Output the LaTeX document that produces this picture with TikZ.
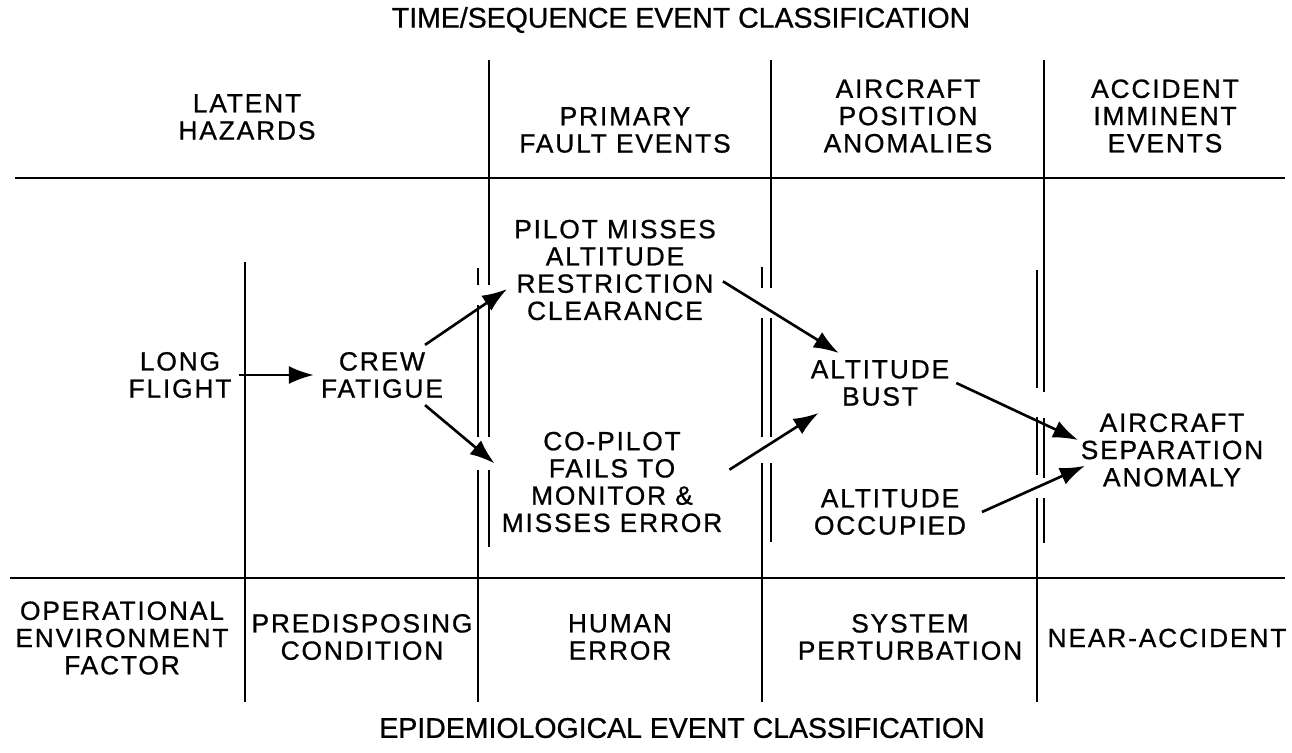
\documentclass[tikz,border=0pt]{standalone}
\usepackage{fontspec}
\setmainfont{Liberation Sans}[LetterSpace=7,FakeBold=0.8]
\newfontfamily\headfont{Liberation Sans}[FakeBold=0.8]
\usetikzlibrary{arrows.meta}

\begin{document}
\begin{tikzpicture}[x=0.02cm,y=-0.02cm,line width=1.5pt,>={Latex[length=5mm,width=3.6mm]},
  every node/.style={align=center,font=\fontsize{15}{15.5}\selectfont}]
  \useasboundingbox (0,0) rectangle (1292,752);

  % titles
  \node[font=\headfont\fontsize{16.2}{18}\selectfont] (tseq) at (681,20) {TIME/SEQUENCE EVENT CLASSIFICATION};
  \node[font=\headfont\fontsize{16.2}{18}\selectfont] (epid) at (682,728) {EPIDEMIOLOGICAL EVENT CLASSIFICATION};

  % column heads
  \node (latent) at (247,117) {LATENT\\HAZARDS};
  \node (primary) at (625,130) {PRIMARY\\FAULT EVENTS};
  \node (position) at (908,116) {AIRCRAFT\\POSITION\\ANOMALIES};
  \node (imminent) at (1165,116) {ACCIDENT\\IMMINENT\\EVENTS};

  % events
  \node (long) at (180,375) {LONG\\FLIGHT};
  \node (crew) at (382,375) {CREW\\FATIGUE};
  \node (pilot) at (615,270) {PILOT MISSES\\ALTITUDE\\RESTRICTION\\CLEARANCE};
  \node (copilot) at (612,482) {CO-PILOT\\FAILS TO\\MONITOR \&\\MISSES ERROR};
  \node (bust) at (880,383) {ALTITUDE\\BUST};
  \node (occupied) at (890,512) {ALTITUDE\\OCCUPIED};
  \node (separation) at (1172,450) {AIRCRAFT\\SEPARATION\\ANOMALY};

  % epidemiological row
  \node (operational) at (122,638) {OPERATIONAL\\ENVIRONMENT\\FACTOR};
  \node (predisposing) at (362,637) {PREDISPOSING\\CONDITION};
  \node (human) at (620,637) {HUMAN\\ERROR};
  \node (perturbation) at (910,637) {SYSTEM\\PERTURBATION};
  \node (near) at (1167,638) {NEAR-ACCIDENT};

  % grid
  \draw (15,178) -- (1285,178);
  \draw (10,578) -- (1285,578);
  \draw (245,262) -- (245,702);
  \draw (489,60) -- (489,285) (489,305) -- (489,437) (489,470) -- (489,547);
  \draw (478,268) -- (478,285) (478,305) -- (478,437) (478,470) -- (478,702);
  \draw (771,60) -- (771,288) (771,318) -- (771,437) (771,463) -- (771,542);
  \draw (762,267) -- (762,288) (762,318) -- (762,437) (762,463) -- (762,702);
  \draw (1044,60) -- (1044,392) (1044,418) -- (1044,478) (1044,498) -- (1044,543);
  \draw (1037,270) -- (1037,388) (1037,417) -- (1037,475) (1037,498) -- (1037,702);

  % sequence
  \path (long) edge[->] (crew);
  \path (crew.35) edge[->] (pilot.190);
  \path (crew.-35) edge[->] (copilot.171);
  \path (pilot.-6) edge[->] (bust.144);
  \path (copilot.6) edge[->] (bust.206);
  \path (bust.east) edge[->,shorten >=-0.1cm] (separation.173);
  \path ([xshift=5]occupied.east) edge[->,shorten >=-0.25cm] (separation.192);
\end{tikzpicture}
\end{document}
